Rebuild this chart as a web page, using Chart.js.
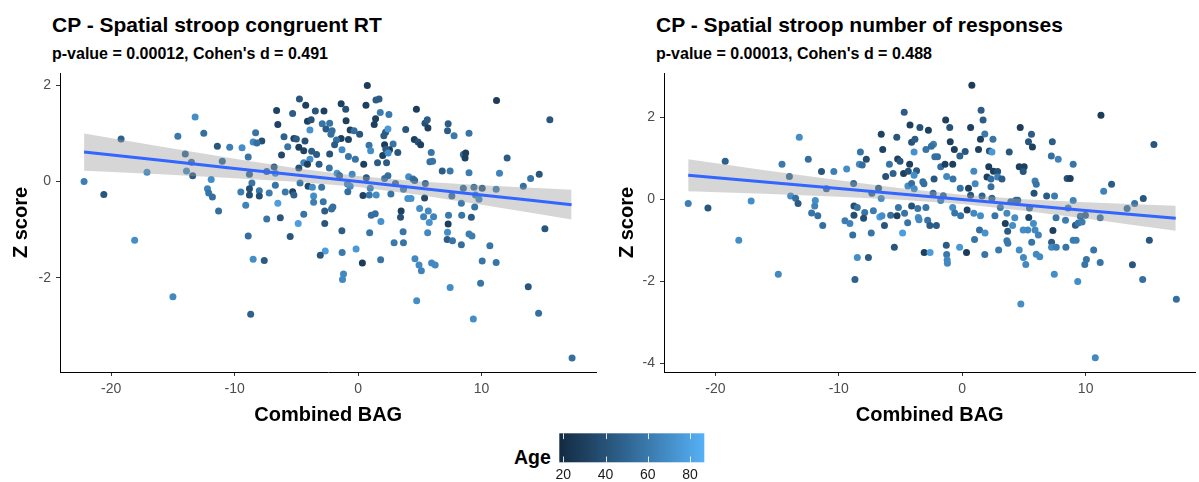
<!DOCTYPE html>
<html>
<head>
<meta charset="utf-8">
<script src="https://cdn.jsdelivr.net/npm/chart.js@4.4.1/dist/chart.umd.min.js"></script>
<style>
  body { margin: 0; background: #fff; width: 1199px; height: 482px; overflow: hidden; position: relative;
         font-family: "Liberation Sans", Arial, sans-serif; }
  canvas { position: absolute; }
  .ttl { position: absolute; font-weight: bold; color: #000; white-space: nowrap; }
</style>
</head>
<body>
<div class="ttl" style="left:52px;top:14.2px;font-size:21px;line-height:21px">CP - Spatial stroop congruent RT</div>
<div class="ttl" style="left:52px;top:46px;font-size:16px;line-height:16px">p-value = 0.00012, Cohen's d = 0.491</div>
<div class="ttl" style="left:656px;top:14.2px;font-size:21px;line-height:21px">CP - Spatial stroop number of responses</div>
<div class="ttl" style="left:656px;top:46px;font-size:16px;line-height:16px">p-value = 0.00013, Cohen's d = 0.488</div>
<div class="ttl" style="left:514px;top:447.8px;font-size:19.5px;line-height:19.5px">Age</div>

<canvas id="left" width="600" height="430" style="left:0;top:0"></canvas>
<canvas id="right" width="599" height="430" style="left:600px;top:0"></canvas>
<canvas id="legendBar" width="180" height="60" style="left:540px;top:425px"></canvas>

<script>
// ---- data ----
const xTicks = [-20, -10, 0, 10];
const leftYTicks = [-2, 0, 2];
const rightYTicks = [-4, -2, 0, 2];
const ageTicks = [20, 40, 60, 80];
const ageLimits = [18.1, 86.8];

// left panel: congruent RT
const leftBag = [
  -22.2,-20.6,-19.2,-18.1,-17.1,-15.0,-14.6,-14.0,-13.9,-13.5,
  -13.4,-13.2,-12.5,-11.4,-10.4,-9.4,-11.0,-11.9,-12.2,-12.1,
  -11.8,-11.3,-8.9,-8.8,-8.6,-8.8,-8.8,-9.5,-9.1,-8.0,
  -8.0,-7.2,-8.9,-8.5,-7.6,-8.7,-8.3,-8.5,-7.8,-8.2,
  -7.4,-6.8,-6.7,-6.7,-6.5,-6.3,-7.4,-6.6,-6.5,-6.0,
  -6.2,-5.7,-5.9,-5.3,-5.2,-5.5,-4.75,-4.24,-5.3,-5.2,
  -5.0,-4.3,-4.8,-4.4,-3.76,-3.36,-3.9,-4.4,-4.1,-4.8,
  -4.7,-4.05,-3.7,-3.6,-3.6,-4.4,-4.85,-3.46,-2.76,-4.1,
  -3.8,-3.9,-2.9,-2.6,-2.3,-2.1,-2.2,-1.37,-1.0,-0.97,
  -0.64,-0.32,-1.37,-0.78,-1.75,-1.9,-1.3,-2.3,-0.78,-0.22,
  -3.16,-2.33,-1.7,-1.5,-0.48,-0.86,-0.64,-2.95,-0.83,-2.82,
  -2.7,-2.15,-2.04,-2.7,-1.31,-1.29,-2.66,-3.06,-0.16,-1.18,
  -1.26,
  0.75,0.64,1.45,1.7,1.8,2.5,1.42,1.31,0.13,2.23,
  2.42,2.09,2.15,2.84,2.55,2.25,0.89,1.02,2.0,2.44,
  3.22,0.46,1.58,2.31,0.67,2.15,2.42,0.99,0.40,0.91,
  1.47,2.66,3.03,3.68,4.1,4.45,4.59,5.45,4.03,4.29,
  5.39,1.07,1.39,1.85,3.49,3.44,0.94,0.35,1.83,2.92,
  3.68,3.65,4.99,5.69,5.31,5.77,6.12,5.64,4.61,4.94,
  5.13,5.96,6.25,4.75,7.46,9.34,9.93,10.06,11.19,10.68,
  8.37,7.22,7.65,7.25,8.99,9.23,7.30,7.33,8.40,9.18,
  9.45,8.37,7.6,8.53,9.39,9.52,9.8,10.06,11.19,8.99,
  11.46,6.82,7.46,5.93,5.82,6.04,8.53,8.72,8.67,7.25,
  7.30,7.78,8.99,12.08,11.22,4.73,3.86,5.42,5.61,5.66,
  4.56,4.86,5.07,13.39,13.98,14.68,15.54,15.14,13.79,14.63,
  17.34
];
const leftZ = [
  0.00,-0.27,0.88,-1.22,0.19,-2.39,0.94,0.57,0.22,0.40,
  0.12,1.34,1.00,0.73,0.71,0.70,0.42,0.04,-0.15,-0.24,
  -0.32,-0.61,0.51,0.15,-0.03,-0.15,-0.28,-0.22,-0.49,-0.19,
  -0.30,-0.24,-1.13,-1.61,-1.64,-2.75,1.01,0.82,0.84,0.80,
  0.21,0.30,0.17,-0.08,-0.45,-0.75,-0.78,1.47,1.18,0.93,
  0.55,0.72,-0.22,-0.21,-0.28,-1.14,1.71,1.58,1.41,0.89,
  0.88,0.84,0.71,0.64,0.63,0.56,0.46,0.39,0.36,0.28,
  -0.03,-0.10,-0.12,-0.30,-0.43,-0.68,-0.87,1.46,1.46,1.25,
  1.28,1.07,1.20,1.09,1.21,1.05,0.98,1.61,1.50,1.26,
  1.07,1.05,0.89,0.87,0.86,0.76,0.66,0.57,0.52,0.46,
  0.36,0.28,0.17,0.12,0.15,-0.05,-0.10,-0.12,-0.21,-0.42,
  -0.61,-0.57,-0.53,-0.87,-1.02,-1.47,-1.44,-1.53,-1.40,-1.92,
  -2.03,
  1.99,1.58,1.69,1.71,1.43,1.39,1.30,1.18,0.98,1.02,
  1.09,0.95,0.76,0.78,0.66,0.67,0.75,0.64,0.54,0.59,
  0.60,0.36,0.39,0.39,0.08,0.06,0.12,-0.14,-0.29,-0.28,
  -0.28,-0.26,-0.04,-0.16,0.10,0.05,0.02,-0.04,-0.35,-0.35,
  -0.34,-0.70,-0.67,-0.83,-0.61,-0.74,-1.06,-1.69,-1.62,-1.27,
  -1.27,-1.04,-0.56,-0.61,-0.73,-0.85,-0.73,-1.06,-1.60,-1.73,
  -1.85,-1.69,-1.73,-2.47,-2.20,-2.85,-2.11,-1.65,-1.68,-1.33,
  -1.31,-1.20,-1.23,-1.05,-1.09,-1.13,-0.88,-0.70,-0.70,-0.74,
  -0.53,-0.45,-0.30,-0.14,-0.12,-0.28,-0.37,-0.14,-0.16,0.18,
  0.17,0.22,0.22,0.60,0.41,0.42,0.56,0.59,0.49,1.05,
  1.20,0.95,1.00,0.49,1.68,1.50,1.08,1.21,1.28,1.11,
  0.87,0.82,0.76,-0.10,0.06,0.15,1.28,-0.98,-2.18,-2.73,
  -3.66
];
const leftAge = [
  63,42,48,70,70,68,60,52,70,55,
  45,70,55,42,63,70,52,70,65,58,
  55,55,58,50,58,38,38,62,65,58,
  38,62,55,70,45,48,58,68,38,55,
  52,45,70,58,78,42,58,32,32,48,
  35,58,60,30,48,42,42,30,45,32,
  45,40,28,32,45,45,70,65,30,40,
  58,35,70,70,63,58,78,42,30,30,
  40,72,58,45,58,55,55,30,40,30,
  30,55,30,32,55,45,68,40,58,58,
  45,58,72,50,68,68,70,58,55,58,
  45,55,55,42,45,60,78,42,75,68,
  68,
  28,30,45,45,62,60,30,30,42,42,
  75,45,28,58,30,45,58,70,30,70,
  42,30,45,45,42,55,55,68,32,58,
  70,58,55,62,70,55,52,50,72,72,
  35,55,55,72,30,40,58,28,58,60,
  58,58,70,68,65,72,65,68,68,68,
  65,68,68,70,70,70,58,58,58,58,
  55,45,58,70,62,62,30,60,58,45,
  58,60,55,55,55,62,68,45,62,62,
  65,45,60,58,55,58,55,30,30,45,
  45,60,58,45,28,28,42,40,45,30,
  30,40,30,55,58,42,42,42,42,55,
  55
];

// right panel: number of responses
const rightBag = [
  -22.2,-20.6,-19.2,-18.1,-17.1,-14.9,-14.6,-14.0,-13.9,-13.5,
  -13.3,-13.2,-12.47,-11.4,-10.4,-9.36,-11.0,-11.9,-11.95,-12.2,
  -11.7,-11.3,-8.8,-8.77,-8.5,-8.77,-9.5,-9.1,-8.87,-8.5,
  -7.6,-8.69,-8.25,-8.33,-7.77,-8.1,-7.9,-7.99,-7.2,-7.37,
  -7.32,-6.78,-6.56,-6.68,-6.5,-6.3,-5.5,-6.56,-6.44,-5.9,
  -6.2,-5.6,-5.3,-5.23,-5.04,-4.75,-4.37,-4.26,-4.7,-4.23,
  -3.43,-2.74,-4.1,-3.83,-3.9,-3.7,-3.9,-4.4,-4.1,-3.89,
  -4.1,-3.6,-5.17,-5.8,-5.28,-4.67,-4.42,-4.83,-3.56,-3.5,
  -2.94,-2.8,-2.62,-2.09,-3.08,-2.6,-1.29,-1.26,-1.2,-1.22,
  -2.94,-2.33,-2.5,-2.22,-2.0,-1.74,-1.39,-0.77,-2.28,-3.19,
  -3.1,-1.26,-0.75,-1.34,-1.01,-0.97,-0.64,-0.19,-2.36,-1.53,
  -1.74,-0.16,-0.77,-0.61,-0.13,-0.21,
  0.78,1.53,1.69,0.68,1.83,1.48,2.49,1.32,2.2,2.41,
  0.24,0.94,1.05,2.15,2.53,2.87,2.01,2.33,2.87,3.22,
  2.33,0.51,0.68,1.61,2.41,0.40,0.94,1.48,2.65,3.09,
  3.62,3.49,3.68,4.08,4.26,1.40,1.85,1.0,0.35,1.83,
  2.95,3.62,3.7,4.62,4.96,5.15,4.75,3.94,4.34,4.5,
  3.81,4.7,5.61,5.37,5.69,4.62,5.02,4.94,5.9,6.0,
  5.82,5.45,5.39,4.94,5.31,5.77,5.9,6.17,5.63,6.0,
  6.28,6.84,7.48,7.3,7.22,7.78,7.6,7.35,7.24,7.24,
  7.62,8.4,7.46,8.37,8.58,8.99,8.5,8.75,8.99,9.17,
  9.4,9.57,9.71,9.98,8.99,9.23,9.36,10.65,10.06,9.93,
  11.18,10.78,11.24,12.1,11.46,11.18,13.36,13.97,14.67,15.53,
  15.16,13.79,14.62,17.35
];
const rightZ = [
  -0.10,-0.21,0.93,-1.00,-0.04,-1.83,0.86,0.56,0.08,0.03,
  -0.10,1.52,0.98,0.68,0.68,0.74,0.26,-0.03,-0.16,-0.33,
  -0.40,-0.64,0.39,-0.16,-0.20,-0.39,-0.52,-0.59,-0.87,-1.42,
  -1.42,-1.96,1.16,0.86,0.98,0.84,-0.32,-0.46,-0.28,-0.82,
  0.15,0.27,0.02,-0.43,-0.40,-0.64,-1.17,1.59,1.22,0.86,
  0.56,0.63,1.52,0.99,0.93,0.63,0.69,0.86,2.13,1.82,
  1.76,1.69,1.40,1.47,1.16,0.70,0.59,0.33,0.39,0.26,
  -0.16,-0.22,-0.20,-0.39,-0.40,-0.34,-0.57,-0.82,-0.44,-0.50,
  -0.20,-0.51,-0.64,-0.64,-1.30,-1.30,-1.12,-1.35,-1.56,-1.48,
  1.22,1.35,1.30,1.04,1.04,0.80,0.86,0.86,0.50,0.43,
  0.38,0.56,0.50,1.94,1.76,1.41,1.22,1.06,0.15,0.09,
  -0.03,0.27,-0.20,-0.33,-0.40,-1.17,
  2.79,2.18,1.94,1.76,1.60,1.47,1.47,1.22,1.18,1.16,
  1.17,0.69,0.38,0.80,0.69,0.68,0.55,0.50,0.55,0.50,
  0.31,0.27,0.10,0.08,0.03,-0.26,-0.34,-0.40,-0.40,-0.20,
  -0.34,-0.59,-0.78,-0.64,-0.45,-0.75,-0.82,-0.98,-1.30,-1.35,
  -1.24,-1.01,-1.07,-1.24,-1.42,-1.59,-2.56,-0.06,-0.02,-0.02,
  1.16,1.76,1.59,1.41,1.28,0.80,0.80,0.68,0.45,0.37,
  0.15,-0.21,-0.44,-0.75,-0.75,-0.59,-0.75,-0.87,-1.05,-1.34,
  -1.40,0.08,0.08,1.41,1.06,0.98,-0.45,-0.76,-1.05,-1.17,
  -1.17,-1.17,-1.83,-0.51,-0.21,-0.03,0.51,0.51,0.86,-0.63,
  -0.58,-0.41,-0.55,-0.39,-1.00,-1.00,-2.01,-1.24,-1.47,-1.59,
  -1.54,-3.87,2.06,0.37,0.20,-0.45,-0.22,-0.10,0.02,1.34,
  -1.00,-1.60,-1.96,-2.44
];
const rightAge = [
  63,42,48,70,70,68,60,52,70,55,
  45,70,55,42,63,70,52,70,65,58,
  55,55,52,38,58,38,62,65,55,70,
  45,48,58,68,38,55,58,38,62,58,
  52,45,70,78,70,42,42,32,32,58,
  40,48,42,30,42,30,40,30,45,30,
  40,30,40,45,72,45,70,70,55,70,
  40,58,58,55,30,58,58,78,70,68,
  58,58,45,45,30,78,45,60,68,68,
  58,63,55,55,55,55,30,30,42,55,
  55,68,58,30,40,30,30,48,52,52,
  65,58,70,58,58,75,
  28,45,45,30,60,30,58,30,42,75,
  42,68,68,28,30,40,30,55,63,45,
  55,30,42,48,52,32,68,70,58,62,
  68,30,45,70,70,55,72,58,28,58,
  60,60,60,70,68,68,70,55,55,52,
  42,28,45,42,30,30,30,42,63,58,
  40,55,32,70,68,70,68,65,58,68,
  68,45,62,45,55,65,58,30,45,68,
  62,58,70,62,62,65,40,30,58,45,
  58,55,62,50,62,62,70,58,58,58,
  58,68,28,45,65,58,55,58,42,42,
  42,42,55,55
];

// fitted line and its confidence band, read at a few x positions
const fitX = [-22.2, -16, -10, -5, 0, 5, 10, 14, 17.3];
const leftFit = [0.61, 0.44, 0.27, 0.135, 0.0, -0.14, -0.28, -0.39, -0.48];
const leftLo  = [0.225, 0.152, 0.07, -0.006, -0.115, -0.282, -0.482, -0.649, -0.79];
const leftHi  = [0.995, 0.728, 0.47, 0.276, 0.115, 0.002, -0.078, -0.131, -0.17];
const rightFit = [0.59, 0.425, 0.265, 0.13, 0.0, -0.135, -0.27, -0.375, -0.46];
const rightLo  = [0.20, 0.135, 0.065, -0.01, -0.115, -0.275, -0.47, -0.63, -0.765];
const rightHi  = [0.98, 0.715, 0.465, 0.27, 0.115, 0.005, -0.07, -0.12, -0.155];

// ---- colour scale (like ggplot's default gradient, in Lab) ----
const lowHex = '#132B43', highHex = '#56B1F7';

function hexToRgb(h) { return [1, 3, 5].map(i => parseInt(h.substr(i, 2), 16)); }

function rgbToLab(rgb) {
  const lin = c => { c /= 255; return c <= 0.04045 ? c / 12.92 : Math.pow((c + 0.055) / 1.055, 2.4); };
  const [r, g, b] = rgb.map(lin);
  const X = (0.4124 * r + 0.3576 * g + 0.1805 * b) / 0.95047;
  const Y = 0.2126 * r + 0.7152 * g + 0.0722 * b;
  const Z = (0.0193 * r + 0.1192 * g + 0.9505 * b) / 1.08883;
  const f = t => t > 0.008856 ? Math.cbrt(t) : 7.787 * t + 16 / 116;
  const fx = f(X), fy = f(Y), fz = f(Z);
  return [116 * fy - 16, 500 * (fx - fy), 200 * (fy - fz)];
}

function labToRgb([L, a, b]) {
  const fy = (L + 16) / 116, fx = fy + a / 500, fz = fy - b / 200;
  const inv = t => t * t * t > 0.008856 ? t * t * t : (t - 16 / 116) / 7.787;
  const X = inv(fx) * 0.95047, Y = inv(fy), Z = inv(fz) * 1.08883;
  const r = 3.2406 * X - 1.5372 * Y - 0.4986 * Z;
  const g = -0.9689 * X + 1.8758 * Y + 0.0415 * Z;
  const bb = 0.0557 * X - 0.2040 * Y + 1.0570 * Z;
  const gam = c => {
    c = c <= 0.0031308 ? 12.92 * c : 1.055 * Math.pow(c, 1 / 2.4) - 0.055;
    return Math.round(Math.max(0, Math.min(1, c)) * 255);
  };
  return [gam(r), gam(g), gam(bb)];
}

const lowLab = rgbToLab(hexToRgb(lowHex));
const highLab = rgbToLab(hexToRgb(highHex));

function ageColor(age) {
  let t = (age - ageLimits[0]) / (ageLimits[1] - ageLimits[0]);
  t = Math.max(0, Math.min(1, t));
  const lab = lowLab.map((v, i) => v + (highLab[i] - v) * t);
  const [r, g, b] = labToRgb(lab);
  return `rgb(${r},${g},${b})`;
}

// ---- charts ----
Chart.defaults.font.family = '"Liberation Sans", Arial, sans-serif';

const fixTicks = list => scale => { scale.ticks = list.map(v => ({ value: v })); };

function makePanel(id, p) {
  const pts = p.bag.map((b, i) => ({ x: b, y: p.z[i] }));
  const along = ys => fitX.map((x, i) => ({ x: x, y: ys[i] }));
  const clear = 'rgba(0,0,0,0)';

  new Chart(document.getElementById(id), {
    type: 'scatter',
    data: {
      datasets: [
        { data: pts, order: 3, pointRadius: 3.5, pointHoverRadius: 3.5, pointBorderWidth: 0,
          pointBackgroundColor: c => ageColor(p.age[c.dataIndex]) },
        { data: along(p.lo), order: 1, showLine: true, pointRadius: 0, borderColor: clear, fill: false },
        { data: along(p.hi), order: 1, showLine: true, pointRadius: 0, borderColor: clear,
          fill: '-1', backgroundColor: 'rgba(153,153,153,0.4)' },
        { data: along(p.fit), order: 0, showLine: true, pointRadius: 0, borderColor: '#3366FF', borderWidth: 3 }
      ]
    },
    options: {
      responsive: false,
      animation: false,
      events: [],
      layout: { padding: { top: 73, left: 0, right: 0, bottom: 0 } },
      plugins: { legend: { display: false }, tooltip: { enabled: false } },
      scales: {
        x: {
          type: 'linear', min: p.xMin, max: p.xMax,
          afterBuildTicks: fixTicks(xTicks),
          afterFit: s => { s.height = 58; },
          ticks: { color: '#4d4d4d', font: { size: 14 }, padding: 5, maxRotation: 0, autoSkip: false },
          grid: { drawOnChartArea: false, drawTicks: true, tickLength: 4, color: '#333' },
          border: { color: '#000', width: 1 },
          title: { display: true, text: 'Combined BAG', color: '#000',
                   font: { size: 20, weight: 'bold' }, padding: { top: 0, bottom: 3 } }
        },
        y: {
          type: 'linear', min: p.yMin, max: p.yMax,
          afterBuildTicks: fixTicks(p.yTicks),
          afterFit: s => { s.width = p.axisW; },
          ticks: { color: '#4d4d4d', font: { size: 14 }, padding: 5, autoSkip: false },
          grid: { drawOnChartArea: false, drawTicks: true, tickLength: 4, color: '#333' },
          border: { color: '#000', width: 1 },
          title: { display: true, text: 'Z score', color: '#000',
                   font: { size: 20, weight: 'bold' }, padding: { top: p.titlePad, bottom: 0 } }
        }
      }
    }
  });
}

makePanel('left', {
  bag: leftBag, z: leftZ, age: leftAge, fit: leftFit, lo: leftLo, hi: leftHi,
  xMin: -24.15, xMax: 19.32, yMin: -3.95, yMax: 2.25, yTicks: leftYTicks, axisW: 60, titlePad: 9.3
});

makePanel('right', {
  bag: rightBag, z: rightZ, age: rightAge, fit: rightFit, lo: rightLo, hi: rightHi,
  xMin: -24.16, xMax: 18.9, yMin: -4.22, yMax: 3.09, yTicks: rightYTicks, axisW: 64, titlePad: 15
});

// ---- colour bar legend ----
const colorBar = {
  id: 'colorBar',
  afterDraw(chart) {
    const { ctx, chartArea: a, scales: { x } } = chart;
    const grad = ctx.createLinearGradient(a.left, 0, a.right, 0);
    for (let i = 0; i <= 20; i++) {
      const t = i / 20;
      grad.addColorStop(t, ageColor(ageLimits[0] + t * (ageLimits[1] - ageLimits[0])));
    }
    ctx.save();
    ctx.fillStyle = grad;
    ctx.fillRect(a.left, a.top, a.right - a.left, a.bottom - a.top);
    ctx.strokeStyle = 'rgba(255,255,255,0.85)';
    ctx.lineWidth = 1;
    const len = (a.bottom - a.top) / 5;
    ageTicks.forEach(v => {
      const px = Math.round(x.getPixelForValue(v)) + 0.5;
      ctx.beginPath();
      ctx.moveTo(px, a.top); ctx.lineTo(px, a.top + len);
      ctx.moveTo(px, a.bottom - len); ctx.lineTo(px, a.bottom);
      ctx.stroke();
    });
    ctx.restore();
  }
};

new Chart(document.getElementById('legendBar'), {
  type: 'scatter',
  data: { datasets: [] },
  options: {
    responsive: false,
    animation: false,
    events: [],
    layout: { padding: { left: 19.3, right: 15.7, top: 8.3, bottom: 0 } },
    plugins: { legend: { display: false }, tooltip: { enabled: false } },
    scales: {
      x: {
        type: 'linear', min: ageLimits[0], max: ageLimits[1],
        afterBuildTicks: fixTicks(ageTicks),
        afterFit: s => { s.height = 22.7; },
        grid: { display: false, drawTicks: false },
        border: { display: false },
        ticks: { color: '#1a1a1a', font: { size: 14 }, padding: 4.3, maxRotation: 0, autoSkip: false }
      },
      y: { display: false }
    }
  },
  plugins: [colorBar]
});
</script>
</body>
</html>
